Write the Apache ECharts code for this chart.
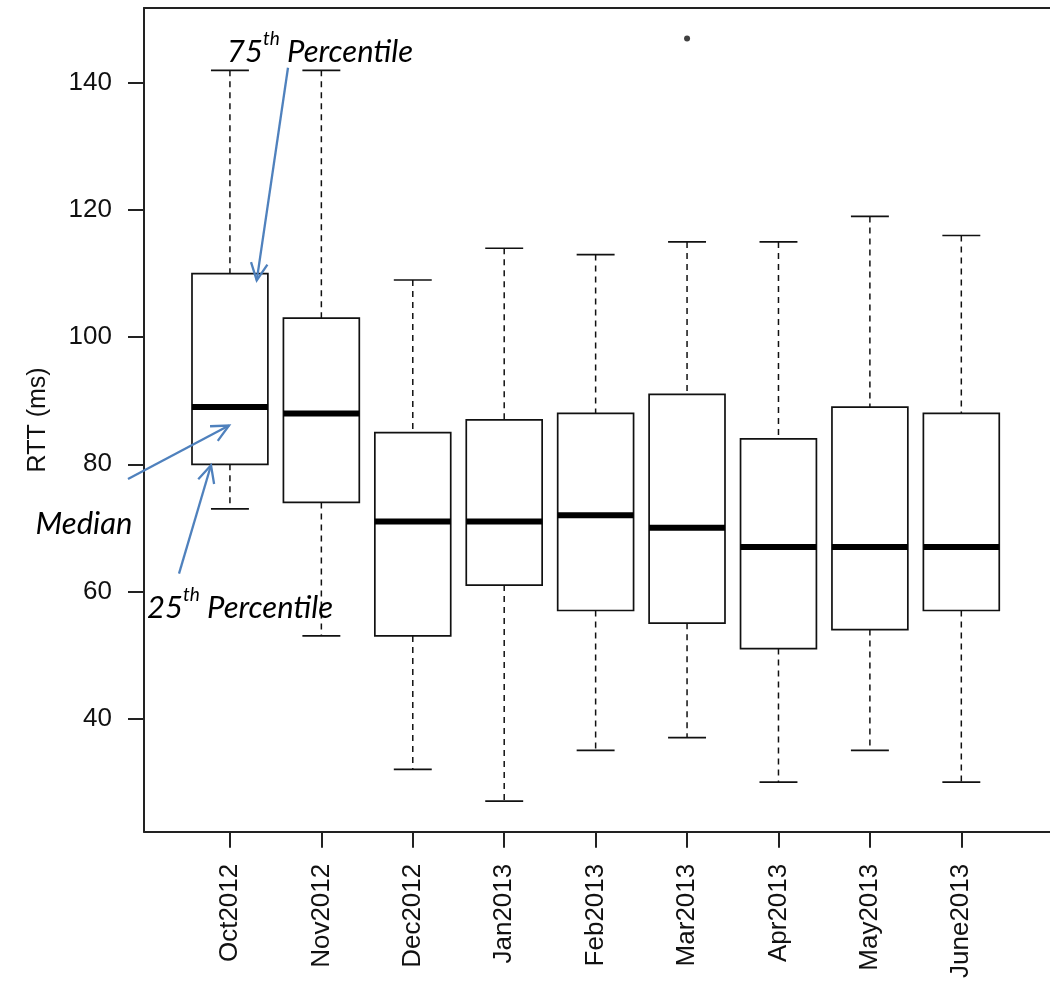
<!DOCTYPE html>
<html>
<head>
<meta charset="utf-8">
<script src="https://cdn.jsdelivr.net/npm/echarts@6/dist/echarts.min.js"></script>
<style>
html,body{margin:0;padding:0;background:#fff;}
#chart{width:1050px;height:981px;}
</style>
</head>
<body>
<div id="chart"></div>
<script>
const categories = ['Oct2012','Nov2012','Dec2012','Jan2013','Feb2013','Mar2013','Apr2013','May2013','June2013'];
const lowWhisker  = [73, 53, 32, 27, 35, 37, 30, 35, 30];
const q1          = [80, 74, 53, 61, 57, 55, 51, 54, 57];
const median      = [89, 88, 71, 71, 72, 70, 67, 67, 67];
const q3          = [110, 103, 85, 87, 88, 91, 84, 89, 88];
const highWhisker = [142, 142, 109, 114, 113, 115, 115, 119, 116];
const outliers    = [['Mar2013', 147]];
const yTicks      = [40, 60, 80, 100, 120, 140];
const yAxisTitle  = 'RTT (ms)';

// annotations (text + arrows), anchored in data coordinates
const annotationTexts = [
  {num: '75', sup: 'th', rest: ' Percentile', at: [1.985, 145.4]},
  {num: '', sup: '', rest: 'Median', at: [-0.596, 71.2]},
  {num: '25', sup: 'th', rest: ' Percentile', at: [1.11, 57.9]}
];
const annotationArrows = [
  {from: [1.635, 142.4], to: [1.293, 108.95]},
  {from: [-0.115, 77.7], to: [0.99, 86.1]},
  {from: [0.443, 62.8], to: [0.793, 79.85]}
];

const boxData = categories.map((c, i) => [i + 1, lowWhisker[i], q1[i], median[i], q3[i], highWhisker[i]]);
const outlierData = outliers.map(o => [categories.indexOf(o[0]) + 1, o[1]]);

const INK = '#111';
const AXIS_FONT = "'Liberation Sans', Arial, sans-serif";

function renderBox(params, api) {
  const x = api.value(0);
  const pLo = api.coord([x, api.value(1)]);
  const pQ1 = api.coord([x, api.value(2)]);
  const pMed = api.coord([x, api.value(3)]);
  const pQ3 = api.coord([x, api.value(4)]);
  const pHi = api.coord([x, api.value(5)]);
  const unit = api.size([1, 0])[0];
  const bw = unit * 0.83;
  const cw = bw * 0.5;
  const cx = pMed[0];
  const dash = {stroke: INK, lineWidth: 1.5, lineDash: [6, 5]};
  const solid = {stroke: INK, lineWidth: 1.7};
  return {
    type: 'group',
    children: [
      {type: 'line', shape: {x1: cx, y1: pHi[1], x2: cx, y2: pQ3[1]}, style: dash},
      {type: 'line', shape: {x1: cx, y1: pQ1[1], x2: cx, y2: pLo[1]}, style: dash},
      {type: 'line', shape: {x1: cx - cw / 2, y1: pHi[1], x2: cx + cw / 2, y2: pHi[1]}, style: solid},
      {type: 'line', shape: {x1: cx - cw / 2, y1: pLo[1], x2: cx + cw / 2, y2: pLo[1]}, style: solid},
      {type: 'rect', shape: {x: cx - bw / 2, y: pQ3[1], width: bw, height: pQ1[1] - pQ3[1]},
        style: {fill: '#fff', stroke: INK, lineWidth: 1.7}},
      {type: 'line', shape: {x1: cx - bw / 2, y1: pMed[1], x2: cx + bw / 2, y2: pMed[1]},
        style: {stroke: '#000', lineWidth: 6}}
    ]
  };
}

const chart = echarts.init(document.getElementById('chart'), null, {renderer: 'canvas'});

const option = {
  animation: false,
  backgroundColor: '#fff',
  grid: {left: 144, right: 0, top: 8, bottom: 149, containLabel: false},
  xAxis: [
    {
      type: 'value', min: 0.06, max: 9.97, position: 'bottom',
      axisLine: {show: true, onZero: false, lineStyle: {color: '#222', width: 2}},
      axisTick: {show: true, length: 16, customValues: categories.map((c, i) => i + 1), lineStyle: {color: '#222', width: 2}},
      axisLabel: {
        show: true, rotate: 90, margin: 32, fontSize: 26, color: '#111', fontFamily: AXIS_FONT,
        customValues: categories.map((c, i) => i + 1),
        formatter: v => categories[Math.round(v) - 1] || ''
      },
      splitLine: {show: false}
    },
    {
      type: 'value', min: 0.06, max: 9.97, position: 'top',
      axisLine: {show: true, onZero: false, lineStyle: {color: '#222', width: 2}},
      axisTick: {show: false}, axisLabel: {show: false}, splitLine: {show: false}
    }
  ],
  yAxis: {
    type: 'value', min: 22.18, max: 151.8,
    name: yAxisTitle, nameLocation: 'middle', nameGap: 93,
    nameTextStyle: {fontSize: 25, color: '#111', fontFamily: AXIS_FONT},
    axisLine: {show: true, onZero: false, lineStyle: {color: '#222', width: 2}},
    axisTick: {show: true, length: 16, customValues: yTicks, lineStyle: {color: '#222', width: 2}},
    axisLabel: {show: true, margin: 32, fontSize: 26, color: '#111', fontFamily: AXIS_FONT, customValues: yTicks},
    splitLine: {show: false}
  },
  series: [
    {
      type: 'custom', name: 'box', xAxisIndex: 0, renderItem: renderBox,
      encode: {x: 0, y: [1, 2, 3, 4, 5]}, data: boxData, clip: false
    },
    {
      type: 'scatter', name: 'outliers', xAxisIndex: 0, data: outlierData,
      symbol: 'circle', symbolSize: 6, itemStyle: {color: INK}
    }
  ]
};
chart.setOption(option);

// annotations via library coordinate conversion
const ARROW = '#4f81bd';
const ANNO_FONT = "Lato, 'Open Sans', sans-serif";
const graphics = [];
annotationTexts.forEach(a => {
  const p = chart.convertToPixel({xAxisIndex: 0, yAxisIndex: 0}, a.at);
  const rich = {
    n: {fontSize: 31, fontStyle: 'italic', fontFamily: ANNO_FONT, fill: '#000', color: '#000', verticalAlign: 'bottom', lineHeight: 38},
    s: {fontSize: 19, fontStyle: 'italic', fontFamily: ANNO_FONT, fill: '#000', color: '#000', verticalAlign: 'top', lineHeight: 38, padding: [0, 0, 16, 0]}
  };
  let txt = '';
  if (a.num) txt += '{n|' + a.num + '}';
  if (a.sup) txt += '{s|' + a.sup + '}';
  txt += '{n|' + a.rest + '}';
  graphics.push({
    type: 'text', x: p[0], y: p[1], z: 100,
    style: {text: txt, rich: rich, align: 'center', verticalAlign: 'middle', fill: '#000',
      font: "italic 31px " + ANNO_FONT}
  });
});
annotationArrows.forEach(a => {
  const p0 = chart.convertToPixel({xAxisIndex: 0, yAxisIndex: 0}, a.from);
  const p1 = chart.convertToPixel({xAxisIndex: 0, yAxisIndex: 0}, a.to);
  const ang = Math.atan2(p1[1] - p0[1], p1[0] - p0[0]);
  const L = 19, spread = 0.45;
  const h1 = [p1[0] - L * Math.cos(ang - spread), p1[1] - L * Math.sin(ang - spread)];
  const h2 = [p1[0] - L * Math.cos(ang + spread), p1[1] - L * Math.sin(ang + spread)];
  graphics.push({type: 'line', z: 101, shape: {x1: p0[0], y1: p0[1], x2: p1[0], y2: p1[1]},
    style: {stroke: ARROW, lineWidth: 2.3}});
  graphics.push({type: 'polyline', z: 101, shape: {points: [h1, p1, h2]},
    style: {stroke: ARROW, lineWidth: 2.3, fill: null}});
});
chart.setOption({graphic: graphics});
</script>
</body>
</html>
